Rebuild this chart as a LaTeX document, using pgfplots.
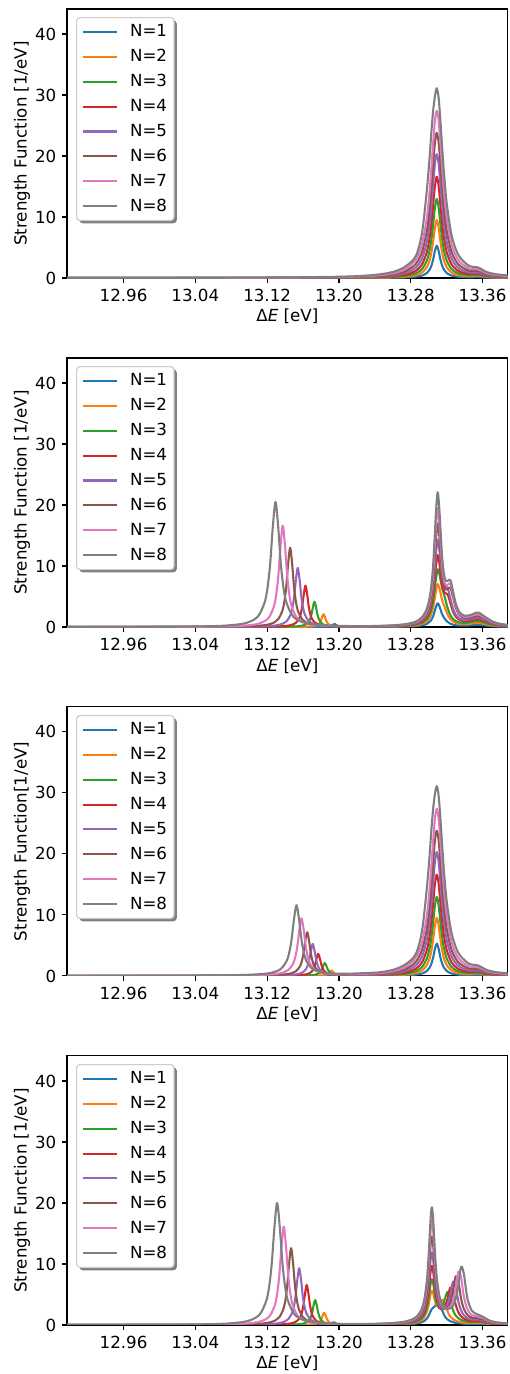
\documentclass[border=0pt]{standalone}
\usepackage{fontspec}
\setmainfont{DejaVu Sans}
\usepackage{pgfplots}
\pgfplotsset{compat=1.18}
\usepackage{pgfplotstable}
\usetikzlibrary{shadows}

\makeatletter
\tikzset{nopre/.code={\let\tikz@preactions\pgfutil@empty}}
\makeatother

\definecolor{c1}{HTML}{1F77B4}
\definecolor{c2}{HTML}{FF7F0E}
\definecolor{c3}{HTML}{2CA02C}
\definecolor{c4}{HTML}{D62728}
\definecolor{c5}{HTML}{9467BD}
\definecolor{c6}{HTML}{8C564B}
\definecolor{c7}{HTML}{E377C2}
\definecolor{c8}{HTML}{7F7F7F}

% panel 1 (and right group of panel 3)
\pgfplotstableread{
x n1 n2 n3 n4 n5 n6 n7 n8
12.897 0.00 0.00 0.00 0.00 0.01 0.01 0.01 0.02
13.100 0.00 0.01 0.01 0.02 0.02 0.03 0.04 0.06
13.200 0.01 0.02 0.04 0.06 0.09 0.12 0.16 0.21
13.230 0.02 0.04 0.07 0.11 0.16 0.22 0.30 0.39
13.243 0.03 0.06 0.10 0.16 0.23 0.32 0.43 0.56
13.253 0.04 0.08 0.14 0.22 0.32 0.44 0.59 0.77
13.263 0.06 0.12 0.21 0.33 0.47 0.65 0.86 1.12
13.273 0.09 0.20 0.34 0.52 0.76 1.04 1.38 1.79
13.283 0.17 0.38 0.63 0.98 1.41 1.92 2.53 3.00
13.288 0.25 0.57 0.95 1.45 2.08 2.82 3.70 4.50
13.293 0.42 0.94 1.55 2.35 3.34 4.48 5.81 7.80
13.298 0.82 1.79 2.89 4.30 5.97 7.83 9.94 14.50
13.301 1.36 2.90 4.56 6.60 8.94 11.45 14.20 19.80
13.303 2.01 4.16 6.37 8.96 11.84 14.81 18.00 24.00
13.305 3.07 6.05 8.87 12.04 15.41 18.74 22.23 27.50
13.307 4.49 8.32 11.61 15.16 18.81 22.30 25.90 29.90
13.309 5.30 9.50 12.95 16.60 20.30 23.80 27.40 31.10
13.311 4.49 8.32 11.61 15.16 18.81 22.30 25.90 29.60
13.313 3.07 6.05 8.87 12.04 15.41 18.74 22.23 25.87
13.315 2.01 4.16 6.37 8.96 11.84 14.81 18.00 21.38
13.317 1.36 2.90 4.56 6.60 8.94 11.45 14.20 17.20
13.320 0.82 1.79 2.89 4.30 5.97 7.83 9.94 12.30
13.325 0.42 0.94 1.55 2.35 3.34 4.48 5.81 7.35
13.330 0.26 0.59 0.97 1.48 2.12 2.86 3.74 4.78
13.335 0.18 0.41 0.67 1.02 1.46 1.97 2.60 3.33
13.345 0.12 0.30 0.45 0.66 0.91 1.21 1.56 1.99
13.355 0.14 0.42 0.56 0.73 0.92 1.15 1.41 1.72
13.365 0.06 0.18 0.26 0.35 0.47 0.61 0.77 0.96
13.375 0.04 0.09 0.14 0.20 0.28 0.37 0.49 0.62
13.388 0.02 0.06 0.09 0.13 0.18 0.25 0.32 0.42
}\tabA

% panel 2, right group
\pgfplotstableread{
x n1 n2 n3 n4 n5 n6 n7 n8
13.243 0.02 0.05 0.07 0.09 0.11 0.13 0.16 0.18
13.260 0.04 0.08 0.11 0.14 0.17 0.20 0.24 0.28
13.275 0.08 0.15 0.21 0.26 0.32 0.37 0.43 0.49
13.285 0.14 0.27 0.38 0.47 0.57 0.67 0.76 0.86
13.292 0.26 0.49 0.67 0.84 1.01 1.19 1.35 1.53
13.298 0.52 0.97 1.32 1.65 2.00 2.35 2.69 3.04
13.302 0.99 1.81 2.44 3.06 3.71 4.39 5.03 5.69
13.305 1.80 3.24 4.35 5.48 6.65 7.90 9.06 10.27
13.308 3.26 5.85 7.82 9.87 11.96 14.27 16.37 18.56
13.310 3.90 7.05 9.46 11.79 14.30 17.00 19.50 22.11
13.312 3.38 6.30 8.60 10.31 12.49 14.61 16.74 18.95
13.315 2.09 4.40 6.36 6.78 8.19 8.86 10.10 11.37
13.318 1.34 3.20 4.86 5.61 6.75 6.33 7.14 7.94
13.321 0.85 2.07 3.17 5.36 6.43 6.21 6.91 7.55
13.324 0.56 1.31 1.99 3.99 4.78 6.48 7.15 7.73
13.327 0.39 0.90 1.35 2.57 3.08 4.97 5.48 5.92
13.330 0.30 0.68 1.00 1.74 2.08 3.24 3.60 3.91
13.334 0.24 0.53 0.77 1.21 1.45 2.04 2.28 2.50
13.340 0.22 0.47 0.68 0.96 1.15 1.46 1.65 1.84
13.347 0.28 0.57 0.81 1.08 1.29 1.54 1.77 2.00
13.355 0.35 0.70 0.99 1.31 1.55 1.81 2.10 2.38
13.363 0.24 0.49 0.69 0.91 1.07 1.25 1.45 1.65
13.372 0.12 0.25 0.36 0.47 0.56 0.65 0.75 0.85
13.380 0.08 0.15 0.22 0.28 0.34 0.40 0.46 0.52
13.388 0.05 0.10 0.15 0.19 0.23 0.27 0.31 0.35
}\tabB

% panel 4, right group
\pgfplotstableread{
x n1 n2 n3 n4 n5 n6 n7 n8
13.243 0.03 0.06 0.08 0.10 0.12 0.15 0.17 0.20
13.260 0.06 0.09 0.13 0.16 0.19 0.23 0.28 0.32
13.275 0.11 0.19 0.25 0.32 0.38 0.45 0.53 0.60
13.285 0.22 0.38 0.50 0.63 0.76 0.91 1.06 1.19
13.291 0.39 0.70 0.93 1.17 1.42 1.71 2.01 2.24
13.295 0.64 1.24 1.65 2.10 2.56 3.09 3.65 4.08
13.298 1.05 2.18 2.91 3.74 4.57 5.55 6.57 7.36
13.300 1.53 3.36 4.51 5.83 7.14 8.69 10.30 11.55
13.302 2.21 4.94 6.65 8.61 10.57 12.88 15.28 17.14
13.3035 2.63 5.60 7.50 9.70 11.90 14.50 17.21 19.30
13.305 2.83 5.16 6.79 8.72 10.67 12.98 15.38 17.24
13.307 3.09 3.91 4.85 6.09 7.39 8.93 10.53 11.79
13.309 3.64 3.17 3.49 4.17 4.97 5.93 6.94 7.73
13.312 3.74 3.28 2.73 2.85 3.22 3.71 4.24 4.67
13.315 2.40 4.14 3.03 2.56 2.64 2.85 3.13 3.37
13.318 1.40 3.61 4.30 2.99 2.68 2.62 2.71 2.82
13.321 0.89 2.23 5.40 4.30 3.33 2.85 2.68 2.64
13.324 0.62 1.39 4.06 6.13 4.93 3.67 3.02 2.73
13.327 0.46 0.96 2.45 5.47 7.09 5.51 3.96 3.16
13.330 0.36 0.71 1.56 3.38 6.34 7.96 6.01 4.21
13.333 0.29 0.55 1.10 2.09 3.90 7.12 8.73 6.49
13.336 0.24 0.45 0.83 1.42 2.41 4.37 7.81 9.49
13.339 0.20 0.38 0.66 1.05 1.64 2.70 4.80 8.52
13.343 0.17 0.32 0.53 0.79 1.14 1.67 2.60 4.43
13.348 0.16 0.29 0.46 0.66 0.89 1.20 1.63 2.34
13.354 0.17 0.33 0.50 0.69 0.89 1.12 1.40 1.76
13.360 0.15 0.29 0.44 0.60 0.76 0.95 1.15 1.38
13.367 0.09 0.17 0.25 0.34 0.43 0.53 0.64 0.77
13.375 0.06 0.10 0.15 0.20 0.26 0.32 0.38 0.45
13.388 0.03 0.06 0.09 0.12 0.15 0.18 0.21 0.25
}\tabD

\pgfplotsset{
  pl/.style={color=#1, line width=1.5pt, smooth, mark=none, line join=round},
  panel/.style={
    scale only axis, width=317.3pt, height=193.7pt, anchor=south west,
    xmin=12.897, xmax=13.388, ymin=0, ymax=44.1,
    xtick={12.96,13.04,13.12,13.20,13.28,13.36},
    xticklabels={12.96,13.04,13.12,13.20,13.28,13.36},
    ytick={0,10,20,30,40},
    /pgf/number format/assume math mode=true,
    tick pos=left, tick align=outside, major tick length=3.5pt,
    every tick/.style={black, line width=0.8pt},
    axis line style={line width=0.8pt},
    xlabel={Δ\textit{E} [eV]},
    every axis x label/.style={at={(axis description cs:0.5,0)}, anchor=center, yshift=-27.9pt},
    every axis y label/.style={at={(axis description cs:0,0.5)}, xshift=-32.4pt, rotate=90, anchor=center},
    legend cell align=left,
    legend image code/.code={\draw[#1, nopre, line width=1.5pt] (0pt,0pt) -- (24pt,0pt);},
    legend style={at={(0.0205,0.970)}, anchor=north west, draw=black!20, line width=0.8pt,
      rounded corners=2.5pt, fill=white, inner xsep=4pt, inner ysep=4pt, row sep=5.3pt,
      column sep=8pt,
      drop shadow={shadow xshift=2pt, shadow yshift=-2pt, opacity=0.5, fill=black},
      nodes={inner sep=1pt}},
  },
}

\begin{document}
\fontsize{12}{14.4}\selectfont
\begin{tikzpicture}
\useasboundingbox (0,0) rectangle (366.48pt,989.28pt);

% ---------------- Panel 1
\begin{axis}[panel, at={(48.24pt,789.1pt)}, ylabel={Strength Function [1/eV]}]
\addplot[pl=c1] table[x=x,y=n1]{\tabA};
\addplot[pl=c2] table[x=x,y=n2]{\tabA};
\addplot[pl=c3] table[x=x,y=n3]{\tabA};
\addplot[pl=c4] table[x=x,y=n4]{\tabA};
\addplot[pl=c5] table[x=x,y=n5]{\tabA};
\addplot[pl=c6] table[x=x,y=n6]{\tabA};
\addplot[pl=c7] table[x=x,y=n7]{\tabA};
\addplot[pl=c8] table[x=x,y=n8]{\tabA};
\legend{N=1,N=2,N=3,N=4,N=5,N=6,N=7,N=8}
\end{axis}

% ---------------- Panel 2
\begin{axis}[panel, at={(48.24pt,537.8pt)}, ylabel={Strength Function [1/eV]}]
\addplot[pl=c1] table[x=x,y=n1]{\tabB};
\addplot[pl=c2] table[x=x,y=n2]{\tabB};
\addplot[pl=c3] table[x=x,y=n3]{\tabB};
\addplot[pl=c4] table[x=x,y=n4]{\tabB};
\addplot[pl=c5] table[x=x,y=n5]{\tabB};
\addplot[pl=c6] table[x=x,y=n6]{\tabB};
\addplot[pl=c7] table[x=x,y=n7]{\tabB};
\addplot[pl=c8] table[x=x,y=n8]{\tabB};
\legend{N=1,N=2,N=3,N=4,N=5,N=6,N=7,N=8}
\addplot[pl=c1, forget plot] coordinates {(12.897,0) (13.1,0.001) (13.1502,0.002) (13.167,0.005) (13.1782,0.014) (13.1838,0.029) (13.1866,0.05) (13.1894,0.10) (13.1908,0.154) (13.1922,0.25) (13.1936,0.40) (13.195,0.5) (13.1964,0.40) (13.1978,0.25) (13.1992,0.154) (13.2006,0.10) (13.2034,0.05) (13.2062,0.03) (13.2118,0.02) (13.223,0.02) (13.2398,0.02) (13.243,0.02)};
\addplot[pl=c2, forget plot] coordinates {(12.897,0) (13.1,0.003) (13.1348,0.008) (13.1528,0.021) (13.1648,0.057) (13.1708,0.123) (13.1738,0.21) (13.1768,0.42) (13.1783,0.646) (13.1798,1.05) (13.1813,1.68) (13.1828,2.1) (13.1843,1.68) (13.1858,1.05) (13.1873,0.646) (13.1888,0.42) (13.1918,0.21) (13.1948,0.13) (13.2008,0.07) (13.2128,0.04) (13.2308,0.04) (13.243,0.05)};
\addplot[pl=c3, forget plot] coordinates {(12.897,0.001) (13.1,0.0085) (13.1199,0.016) (13.1397,0.041) (13.1529,0.112) (13.1595,0.244) (13.1628,0.415) (13.1661,0.83) (13.16775,1.277) (13.1694,2.075) (13.17105,3.32) (13.1727,4.15) (13.17435,3.32) (13.176,2.075) (13.17765,1.277) (13.1793,0.83) (13.1826,0.42) (13.1859,0.25) (13.1925,0.12) (13.2057,0.06) (13.2255,0.05) (13.243,0.07)};
\addplot[pl=c4, forget plot] coordinates {(12.897,0.002) (13.05,0.007) (13.1051,0.027) (13.1267,0.067) (13.1411,0.184) (13.1483,0.40) (13.1519,0.68) (13.1555,1.36) (13.1573,2.09) (13.1591,3.40) (13.1609,5.44) (13.1627,6.80) (13.1645,5.44) (13.1663,3.40) (13.1681,2.09) (13.1699,1.36) (13.1735,0.69) (13.1771,0.41) (13.1843,0.20) (13.1987,0.09) (13.2203,0.07) (13.243,0.09)};
\addplot[pl=c5, forget plot] coordinates {(12.897,0.003) (13.0,0.007) (13.0885,0.038) (13.1131,0.096) (13.1295,0.26) (13.1377,0.57) (13.1418,0.97) (13.1459,1.94) (13.14795,2.98) (13.15,4.85) (13.15205,7.76) (13.1541,9.70) (13.15615,7.76) (13.1582,4.85) (13.16025,2.98) (13.1623,1.94) (13.1664,0.98) (13.1705,0.58) (13.1787,0.27) (13.1951,0.11) (13.2197,0.08) (13.243,0.11)};
\addplot[pl=c6, forget plot] coordinates {(12.897,0.004) (13.0,0.012) (13.0752,0.051) (13.1016,0.13) (13.1192,0.35) (13.128,0.76) (13.1324,1.30) (13.1368,2.60) (13.139,4.00) (13.1412,6.50) (13.1434,10.40) (13.1456,13.00) (13.1478,10.40) (13.15,6.50) (13.1522,4.00) (13.1544,2.60) (13.1588,1.31) (13.1632,0.77) (13.172,0.36) (13.1896,0.14) (13.216,0.09) (13.243,0.13)};
\addplot[pl=c7, forget plot] coordinates {(12.897,0.007) (13.0,0.022) (13.0574,0.065) (13.0874,0.164) (13.1074,0.45) (13.1174,0.98) (13.1224,1.66) (13.1274,3.32) (13.1299,5.11) (13.1324,8.30) (13.1349,13.28) (13.1374,16.60) (13.1399,13.28) (13.1424,8.30) (13.1449,5.11) (13.1474,3.32) (13.1524,1.67) (13.1574,0.99) (13.1674,0.46) (13.1874,0.19) (13.2174,0.12) (13.243,0.16)};
\addplot[pl=c8, forget plot] coordinates {(12.897,0.014) (13.0,0.044) (13.0333,0.08) (13.0693,0.20) (13.0933,0.55) (13.1053,1.21) (13.1113,2.05) (13.1173,4.10) (13.1203,6.31) (13.1233,10.25) (13.1263,16.40) (13.1293,20.50) (13.1323,16.40) (13.1353,10.25) (13.1383,6.31) (13.1413,4.10) (13.1473,2.06) (13.1533,1.22) (13.1653,0.57) (13.1893,0.23) (13.2253,0.15) (13.243,0.18)};
\end{axis}

% ---------------- Panel 3
\begin{axis}[panel, at={(48.24pt,286.6pt)}, ylabel={Strength Function[1/eV]}]
\addplot[pl=c1, restrict x to domain=13.24:13.39] table[x=x,y=n1]{\tabA};
\addplot[pl=c2, restrict x to domain=13.24:13.39] table[x=x,y=n2]{\tabA};
\addplot[pl=c3, restrict x to domain=13.24:13.39] table[x=x,y=n3]{\tabA};
\addplot[pl=c4, restrict x to domain=13.24:13.39] table[x=x,y=n4]{\tabA};
\addplot[pl=c5, restrict x to domain=13.24:13.39] table[x=x,y=n5]{\tabA};
\addplot[pl=c6, restrict x to domain=13.24:13.39] table[x=x,y=n6]{\tabA};
\addplot[pl=c7, restrict x to domain=13.24:13.39] table[x=x,y=n7]{\tabA};
\addplot[pl=c8, restrict x to domain=13.24:13.39] table[x=x,y=n8]{\tabA};
\legend{N=1,N=2,N=3,N=4,N=5,N=6,N=7,N=8}
\addplot[pl=c1, forget plot] coordinates {(12.897,0) (13.1,0.005) (13.17,0.015) (13.1812,0.02) (13.1868,0.025) (13.1896,0.035) (13.1924,0.06) (13.1938,0.087) (13.1952,0.135) (13.1966,0.21) (13.198,0.26) (13.1994,0.21) (13.2008,0.135) (13.2022,0.087) (13.2036,0.06) (13.2064,0.035) (13.2092,0.03) (13.2148,0.02) (13.226,0.02) (13.243,0.03)};
\addplot[pl=c2, forget plot] coordinates {(12.897,0) (13.1,0.006) (13.1437,0.015) (13.1617,0.02) (13.1737,0.04) (13.1797,0.07) (13.1827,0.10) (13.1857,0.19) (13.1872,0.29) (13.1887,0.46) (13.1902,0.73) (13.1917,0.91) (13.1932,0.73) (13.1947,0.47) (13.1962,0.29) (13.1977,0.20) (13.2007,0.11) (13.2037,0.08) (13.2097,0.05) (13.2217,0.04) (13.243,0.06)};
\addplot[pl=c3, forget plot] coordinates {(12.897,0.001) (13.1,0.01) (13.1314,0.02) (13.1512,0.04) (13.1644,0.08) (13.171,0.15) (13.1743,0.23) (13.1776,0.44) (13.17925,0.67) (13.1809,1.07) (13.18255,1.70) (13.1842,2.12) (13.18585,1.70) (13.1875,1.08) (13.18915,0.67) (13.1908,0.45) (13.1941,0.24) (13.1974,0.15) (13.204,0.09) (13.2172,0.07) (13.237,0.09) (13.243,0.10)};
\addplot[pl=c4, forget plot] coordinates {(12.897,0.002) (13.1,0.015) (13.1209,0.04) (13.1419,0.06) (13.1559,0.13) (13.1629,0.25) (13.1664,0.39) (13.1699,0.75) (13.17165,1.14) (13.1734,1.83) (13.17515,2.91) (13.1769,3.63) (13.17865,2.91) (13.1804,1.84) (13.18215,1.14) (13.1839,0.76) (13.1874,0.40) (13.1909,0.25) (13.1979,0.15) (13.2119,0.10) (13.2329,0.13) (13.243,0.16)};
\addplot[pl=c5, forget plot] coordinates {(12.897,0.003) (13.0,0.01) (13.11,0.05) (13.1328,0.09) (13.148,0.18) (13.1556,0.35) (13.1594,0.57) (13.1632,1.09) (13.1651,1.65) (13.167,2.65) (13.1689,4.21) (13.1708,5.25) (13.1727,4.21) (13.1746,2.65) (13.1765,1.65) (13.1784,1.09) (13.1822,0.58) (13.186,0.37) (13.1936,0.21) (13.2088,0.14) (13.2316,0.19) (13.243,0.23)};
\addplot[pl=c6, forget plot] coordinates {(12.897,0.005) (13.0,0.016) (13.0974,0.06) (13.1226,0.11) (13.1394,0.24) (13.1478,0.47) (13.152,0.77) (13.1562,1.48) (13.1583,2.24) (13.1604,3.61) (13.1625,5.74) (13.1646,7.16) (13.1667,5.74) (13.1688,3.61) (13.1709,2.24) (13.173,1.49) (13.1772,0.78) (13.1814,0.50) (13.1898,0.28) (13.2066,0.19) (13.2318,0.27) (13.243,0.32)};
\addplot[pl=c7, forget plot] coordinates {(12.897,0.015) (13.0,0.03) (13.0815,0.08) (13.1103,0.15) (13.1295,0.32) (13.1391,0.62) (13.1439,1.01) (13.1487,1.95) (13.1511,2.96) (13.1535,4.76) (13.1559,7.56) (13.1583,9.43) (13.1607,7.57) (13.1631,4.76) (13.1655,2.97) (13.1679,1.96) (13.1727,1.03) (13.1775,0.65) (13.1871,0.37) (13.2063,0.25) (13.2351,0.38) (13.243,0.43)};
\addplot[pl=c8, forget plot] coordinates {(12.897,0.02) (13.0,0.04) (13.0631,0.09) (13.0967,0.18) (13.1191,0.38) (13.1303,0.76) (13.1359,1.24) (13.1415,2.39) (13.1443,3.63) (13.1471,5.85) (13.1499,9.30) (13.1527,11.60) (13.1555,9.30) (13.1583,5.86) (13.1611,3.65) (13.1639,2.41) (13.1695,1.27) (13.1751,0.81) (13.1863,0.46) (13.2087,0.36) (13.243,0.56)};
\end{axis}

% ---------------- Panel 4
\begin{axis}[panel, at={(48.24pt,35.3pt)}, ylabel={Strength Function [1/eV]}]
\addplot[pl=c1] table[x=x,y=n1]{\tabD};
\addplot[pl=c2] table[x=x,y=n2]{\tabD};
\addplot[pl=c3] table[x=x,y=n3]{\tabD};
\addplot[pl=c4] table[x=x,y=n4]{\tabD};
\addplot[pl=c5] table[x=x,y=n5]{\tabD};
\addplot[pl=c6] table[x=x,y=n6]{\tabD};
\addplot[pl=c7] table[x=x,y=n7]{\tabD};
\addplot[pl=c8] table[x=x,y=n8]{\tabD};
\legend{N=1,N=2,N=3,N=4,N=5,N=6,N=7,N=8}
\addplot[pl=c1, forget plot] coordinates {(12.897,0) (13.1,0.001) (13.1492,0.002) (13.166,0.004) (13.1772,0.012) (13.1828,0.026) (13.1856,0.045) (13.1884,0.09) (13.1898,0.138) (13.1912,0.225) (13.1926,0.36) (13.194,0.45) (13.1954,0.36) (13.1968,0.225) (13.1982,0.14) (13.1996,0.095) (13.2024,0.05) (13.2052,0.035) (13.2108,0.025) (13.222,0.02) (13.2388,0.025) (13.243,0.03)};
\addplot[pl=c2, forget plot] coordinates {(12.897,0) (13.1,0.003) (13.1355,0.008) (13.1535,0.02) (13.1655,0.054) (13.1715,0.118) (13.1745,0.20) (13.1775,0.40) (13.179,0.615) (13.1805,1.00) (13.182,1.60) (13.1835,2.00) (13.185,1.60) (13.1865,1.00) (13.188,0.62) (13.1895,0.41) (13.1925,0.21) (13.1955,0.13) (13.2015,0.07) (13.2135,0.04) (13.2315,0.05) (13.243,0.06)};
\addplot[pl=c3, forget plot] coordinates {(12.897,0.001) (13.1,0.008) (13.1207,0.016) (13.1405,0.041) (13.1537,0.111) (13.1603,0.241) (13.1636,0.41) (13.1669,0.82) (13.16855,1.26) (13.1702,2.05) (13.17185,3.28) (13.1735,4.10) (13.17515,3.28) (13.1768,2.05) (13.17845,1.26) (13.1801,0.82) (13.1834,0.42) (13.1867,0.25) (13.1933,0.12) (13.2065,0.06) (13.2263,0.06) (13.243,0.08)};
\addplot[pl=c4, forget plot] coordinates {(12.897,0.002) (13.05,0.007) (13.1065,0.026) (13.1281,0.065) (13.1425,0.177) (13.1497,0.385) (13.1533,0.655) (13.1569,1.31) (13.1587,2.02) (13.1605,3.28) (13.1623,5.24) (13.1641,6.55) (13.1659,5.24) (13.1677,3.28) (13.1695,2.02) (13.1713,1.31) (13.1749,0.66) (13.1785,0.39) (13.1857,0.19) (13.2001,0.09) (13.2217,0.07) (13.243,0.10)};
\addplot[pl=c5, forget plot] coordinates {(12.897,0.003) (13.0,0.007) (13.0901,0.036) (13.1147,0.092) (13.1311,0.251) (13.1393,0.547) (13.1434,0.93) (13.1475,1.86) (13.14955,2.86) (13.1516,4.65) (13.15365,7.44) (13.1557,9.30) (13.15775,7.44) (13.1598,4.65) (13.16185,2.86) (13.1639,1.86) (13.168,0.94) (13.1721,0.56) (13.1803,0.26) (13.1967,0.11) (13.2213,0.08) (13.243,0.12)};
\addplot[pl=c6, forget plot] coordinates {(12.897,0.004) (13.0,0.012) (13.0763,0.049) (13.1027,0.125) (13.1203,0.34) (13.1291,0.741) (13.1335,1.26) (13.1379,2.52) (13.1401,3.88) (13.1423,6.30) (13.1445,10.08) (13.1467,12.60) (13.1489,10.08) (13.1511,6.30) (13.1533,3.88) (13.1555,2.52) (13.1599,1.27) (13.1643,0.75) (13.1731,0.35) (13.1907,0.14) (13.2171,0.09) (13.243,0.15)};
\addplot[pl=c7, forget plot] coordinates {(12.897,0.007) (13.0,0.021) (13.0585,0.063) (13.0885,0.159) (13.1085,0.435) (13.1185,0.947) (13.1235,1.61) (13.1285,3.22) (13.131,4.95) (13.1335,8.05) (13.136,12.88) (13.1385,16.10) (13.141,12.88) (13.1435,8.05) (13.146,4.95) (13.1485,3.22) (13.1535,1.62) (13.1585,0.96) (13.1685,0.45) (13.1885,0.19) (13.2185,0.12) (13.243,0.17)};
\addplot[pl=c8, forget plot] coordinates {(12.897,0.014) (13.0,0.042) (13.0351,0.078) (13.0711,0.198) (13.0951,0.54) (13.1071,1.18) (13.1131,2.00) (13.1191,4.00) (13.1221,6.15) (13.1251,10.00) (13.1281,16.00) (13.1311,20.00) (13.1341,16.00) (13.1371,10.00) (13.1401,6.15) (13.1431,4.00) (13.1491,2.01) (13.1551,1.19) (13.1671,0.55) (13.1911,0.23) (13.2271,0.16) (13.243,0.20)};
\end{axis}
\end{tikzpicture}
\end{document}
